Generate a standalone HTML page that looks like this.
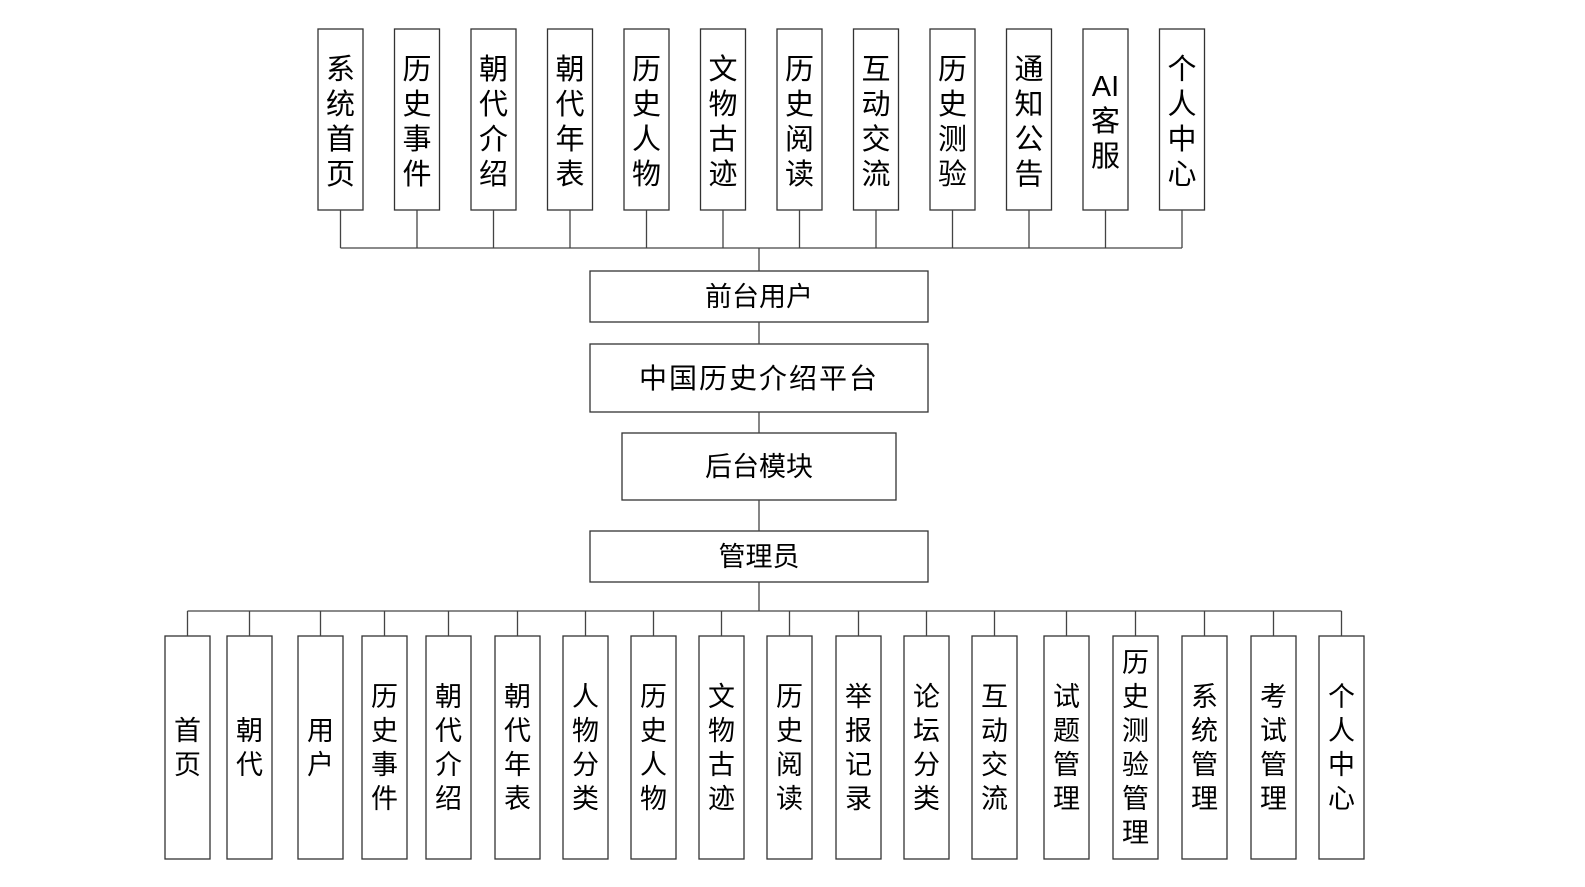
<!DOCTYPE html>
<html><head><meta charset="utf-8"><style>
html,body{margin:0;padding:0;background:#fff;}
svg{display:block;}
text{font-family:"Liberation Sans","Noto Sans CJK SC",sans-serif;fill:#000;}
</style></head><body>
<svg width="1585" height="887" viewBox="0 0 1585 887" xmlns="http://www.w3.org/2000/svg">
<g fill="#fff" stroke="#333" stroke-width="1.3">
<!-- top boxes -->
<rect x="318" y="29" width="45" height="181"/>
<rect x="394.5" y="29" width="45" height="181"/>
<rect x="471" y="29" width="45" height="181"/>
<rect x="547.5" y="29" width="45" height="181"/>
<rect x="624" y="29" width="45" height="181"/>
<rect x="700.5" y="29" width="45" height="181"/>
<rect x="777" y="29" width="45" height="181"/>
<rect x="853.5" y="29" width="45" height="181"/>
<rect x="930" y="29" width="45" height="181"/>
<rect x="1006.5" y="29" width="45" height="181"/>
<rect x="1083" y="29" width="45" height="181"/>
<rect x="1159.5" y="29" width="45" height="181"/>
<!-- middle -->
<rect x="590" y="271" width="338" height="51"/>
<rect x="590" y="344" width="338" height="68"/>
<rect x="622" y="433" width="274" height="67"/>
<rect x="590" y="531" width="338" height="51"/>
<!-- bottom -->
<rect x="165" y="636" width="45" height="223"/>
<rect x="227" y="636" width="45" height="223"/>
<rect x="298" y="636" width="45" height="223"/>
<rect x="362" y="636" width="45" height="223"/>
<rect x="426" y="636" width="45" height="223"/>
<rect x="495" y="636" width="45" height="223"/>
<rect x="563" y="636" width="45" height="223"/>
<rect x="631" y="636" width="45" height="223"/>
<rect x="699" y="636" width="45" height="223"/>
<rect x="767" y="636" width="45" height="223"/>
<rect x="836" y="636" width="45" height="223"/>
<rect x="904" y="636" width="45" height="223"/>
<rect x="972" y="636" width="45" height="223"/>
<rect x="1044" y="636" width="45" height="223"/>
<rect x="1113" y="636" width="45" height="223"/>
<rect x="1182" y="636" width="45" height="223"/>
<rect x="1251" y="636" width="45" height="223"/>
<rect x="1319" y="636" width="45" height="223"/>
</g>
<g stroke="#444" stroke-width="1.3" fill="none">
<path d="M340.5 248H1182M759 248V271M759 322V344M759 412V433M759 500V531M759 582V611M187.5 611H1341.5"/>
<path d="M340.5 210V248M417 210V248M493.5 210V248M570 210V248M646.5 210V248M723 210V248M799.5 210V248M876 210V248M952.5 210V248M1029 210V248M1105.5 210V248M1182 210V248"/>
<path d="M187.5 611V636M249.5 611V636M320.5 611V636M384.5 611V636M448.5 611V636M517.5 611V636M585.5 611V636M653.5 611V636M721.5 611V636M789.5 611V636M858.5 611V636M926.5 611V636M994.5 611V636M1066.5 611V636M1135.5 611V636M1204.5 611V636M1273.5 611V636M1341.5 611V636"/>
</g>
<g font-size="29" text-anchor="middle">
<text x="340.5" y="79">系</text><text x="340.5" y="114">统</text><text x="340.5" y="149">首</text><text x="340.5" y="184">页</text>
<text x="417" y="79">历</text><text x="417" y="114">史</text><text x="417" y="149">事</text><text x="417" y="184">件</text>
<text x="493.5" y="79">朝</text><text x="493.5" y="114">代</text><text x="493.5" y="149">介</text><text x="493.5" y="184">绍</text>
<text x="570" y="79">朝</text><text x="570" y="114">代</text><text x="570" y="149">年</text><text x="570" y="184">表</text>
<text x="646.5" y="79">历</text><text x="646.5" y="114">史</text><text x="646.5" y="149">人</text><text x="646.5" y="184">物</text>
<text x="723" y="79">文</text><text x="723" y="114">物</text><text x="723" y="149">古</text><text x="723" y="184">迹</text>
<text x="799.5" y="79">历</text><text x="799.5" y="114">史</text><text x="799.5" y="149">阅</text><text x="799.5" y="184">读</text>
<text x="876" y="79">互</text><text x="876" y="114">动</text><text x="876" y="149">交</text><text x="876" y="184">流</text>
<text x="952.5" y="79">历</text><text x="952.5" y="114">史</text><text x="952.5" y="149">测</text><text x="952.5" y="184">验</text>
<text x="1029" y="79">通</text><text x="1029" y="114">知</text><text x="1029" y="149">公</text><text x="1029" y="184">告</text>
<text x="1105.5" y="96">AI</text><text x="1105.5" y="131">客</text><text x="1105.5" y="166">服</text>
<text x="1182" y="79">个</text><text x="1182" y="114">人</text><text x="1182" y="149">中</text><text x="1182" y="184">心</text>
</g>
<g font-size="27" text-anchor="middle">
<text x="759" y="306">前台用户</text>
<text x="759" y="388" font-size="28" letter-spacing="2">中国历史介绍平台</text>
<text x="759" y="476">后台模块</text>
<text x="759" y="566">管理员</text>
</g>
<g font-size="27" text-anchor="middle">
<text x="187.5" y="740">首</text><text x="187.5" y="774">页</text>
<text x="249.5" y="740">朝</text><text x="249.5" y="774">代</text>
<text x="320.5" y="740">用</text><text x="320.5" y="774">户</text>
<text x="384.5" y="706">历</text><text x="384.5" y="740">史</text><text x="384.5" y="774">事</text><text x="384.5" y="808">件</text>
<text x="448.5" y="706">朝</text><text x="448.5" y="740">代</text><text x="448.5" y="774">介</text><text x="448.5" y="808">绍</text>
<text x="517.5" y="706">朝</text><text x="517.5" y="740">代</text><text x="517.5" y="774">年</text><text x="517.5" y="808">表</text>
<text x="585.5" y="706">人</text><text x="585.5" y="740">物</text><text x="585.5" y="774">分</text><text x="585.5" y="808">类</text>
<text x="653.5" y="706">历</text><text x="653.5" y="740">史</text><text x="653.5" y="774">人</text><text x="653.5" y="808">物</text>
<text x="721.5" y="706">文</text><text x="721.5" y="740">物</text><text x="721.5" y="774">古</text><text x="721.5" y="808">迹</text>
<text x="789.5" y="706">历</text><text x="789.5" y="740">史</text><text x="789.5" y="774">阅</text><text x="789.5" y="808">读</text>
<text x="858.5" y="706">举</text><text x="858.5" y="740">报</text><text x="858.5" y="774">记</text><text x="858.5" y="808">录</text>
<text x="926.5" y="706">论</text><text x="926.5" y="740">坛</text><text x="926.5" y="774">分</text><text x="926.5" y="808">类</text>
<text x="994.5" y="706">互</text><text x="994.5" y="740">动</text><text x="994.5" y="774">交</text><text x="994.5" y="808">流</text>
<text x="1066.5" y="706">试</text><text x="1066.5" y="740">题</text><text x="1066.5" y="774">管</text><text x="1066.5" y="808">理</text>
<text x="1135.5" y="672">历</text><text x="1135.5" y="706">史</text><text x="1135.5" y="740">测</text><text x="1135.5" y="774">验</text><text x="1135.5" y="808">管</text><text x="1135.5" y="842">理</text>
<text x="1204.5" y="706">系</text><text x="1204.5" y="740">统</text><text x="1204.5" y="774">管</text><text x="1204.5" y="808">理</text>
<text x="1273.5" y="706">考</text><text x="1273.5" y="740">试</text><text x="1273.5" y="774">管</text><text x="1273.5" y="808">理</text>
<text x="1341.5" y="706">个</text><text x="1341.5" y="740">人</text><text x="1341.5" y="774">中</text><text x="1341.5" y="808">心</text>
</g>
</svg>
</body></html>
